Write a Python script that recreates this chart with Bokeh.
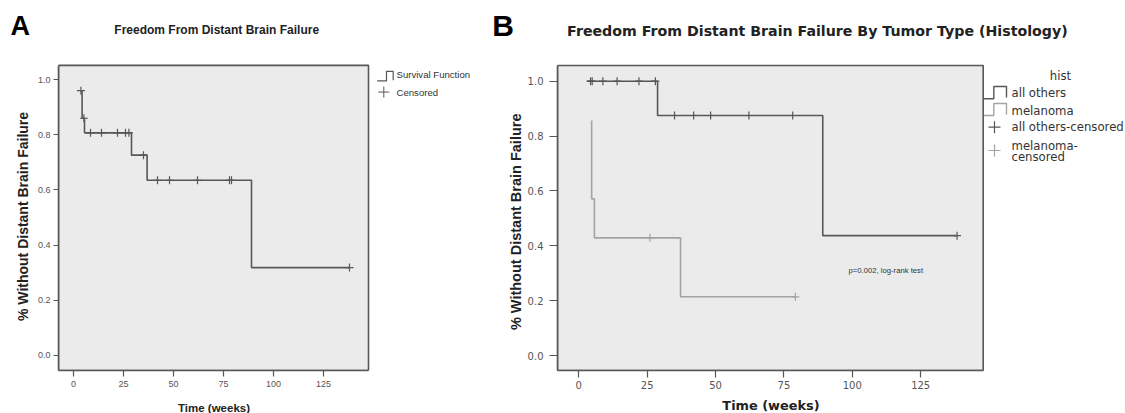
import math
from bokeh.plotting import figure
from bokeh.models import Range1d, FixedTicker, NumeralTickFormatter
from bokeh.layouts import row, column
from bokeh.embed import file_html
from bokeh.resources import INLINE
from bokeh.core.properties import value

# ---------------- data ----------------
x_ticks = [0, 25, 50, 75, 100, 125]
y_ticks = [0.0, 0.2, 0.4, 0.6, 0.8, 1.0]

# Panel A: overall Kaplan-Meier curve
a_step_time = [3.7, 4.3, 5.5, 29.0, 36.8, 89.0, 138.0]
a_step_surv = [0.96, 0.86, 0.807, 0.726, 0.635, 0.318, 0.318]
a_cens_time = [3.7, 5.2, 8.5, 14.0, 22.0, 26.0, 27.7, 35.0, 42.0, 48.0, 62.0, 78.0, 79.0, 138.0]
a_cens_surv = [0.96, 0.86, 0.807, 0.807, 0.807, 0.807, 0.807, 0.726, 0.635, 0.635, 0.635, 0.635, 0.635, 0.318]

# Panel B: by histology
b_oth_time = [3.1, 28.8, 89.2, 138.3]
b_oth_surv = [1.0, 0.875, 0.437, 0.437]
b_oth_cens_time = [4.3, 4.9, 8.8, 14.0, 22.0, 28.0, 35.0, 42.0, 48.2, 62.2, 78.2, 138.3]
b_oth_cens_surv = [1.0, 1.0, 1.0, 1.0, 1.0, 1.0, 0.875, 0.875, 0.875, 0.875, 0.875, 0.437]
b_mel_time = [4.7, 4.7, 5.7, 37.2, 79.2]
b_mel_surv = [0.857, 0.571, 0.429, 0.214, 0.214]
b_mel_cens_time = [26.0, 79.2]
b_mel_cens_surv = [0.429, 0.214]

title_a = "Freedom From Distant Brain Failure"
title_b = "Freedom From Distant Brain Failure By Tumor Type (Histology)"
ylab = "% Without Distant Brain Failure"
xlab = "Time (weeks)"
legend_a = ["Survival Function", "Censored"]
legend_b_title = "hist"
legend_b = ["all others", "melanoma", "all others-censored", "melanoma-", "censored"]
pval_text = "p=0.002, log-rank test"

W, H = 1125, 413
TOP, BOT = 48, 17            # heights of the title strip and x-label strip
MID = H - TOP - BOT
DARK = "#575757"
LIGHT = "#a3a3a3"
BOX_FILL = "#ebebeb"
ARIAL = "Liberation Sans"
VERD = "DejaVu Sans"


def strip(width, height, gx0, gy0):
    """A blank figure whose data coordinates equal page pixels."""
    s = figure(width=width, height=height, output_backend="svg", toolbar_location=None, title=None,
               x_range=Range1d(gx0, gx0 + width), y_range=Range1d(gy0 + height, gy0),
               x_axis_location=None, y_axis_location=None, min_border=0)
    s.outline_line_color = None
    s.grid.visible = False
    return s


def style_axes(p, font, size, xtick_out, xstand, ytick_out, ystand):
    for ax, tks, fmt in ((p.xaxis, x_ticks, None), (p.yaxis, y_ticks, "0.0")):
        ax.ticker = FixedTicker(ticks=tks)
        if fmt:
            ax.formatter = NumeralTickFormatter(format=fmt)
        ax.minor_tick_line_color = None
        ax.major_tick_in = 0
        ax.axis_line_color = DARK
        ax.axis_line_width = 1.6
        ax.major_tick_line_color = DARK
        ax.major_tick_line_width = 1.2
        ax.major_label_text_font = font
        ax.major_label_text_font_size = size
        ax.major_label_text_color = "#555555"
    p.xaxis.major_tick_out = xtick_out
    p.xaxis.major_label_standoff = xstand
    p.yaxis.major_tick_out = ytick_out
    p.yaxis.major_label_standoff = ystand


# ---------------- title strip ----------------
top = strip(W, TOP, 0, 0)
top.text([10], [25], text=["A"], text_font=value(ARIAL), text_font_style="bold",
         text_font_size="27px", text_color="#000000", text_baseline="middle")
top.text([216.2], [29.5], text=[title_a], text_font=value(ARIAL), text_font_style="bold",
         text_font_size="12px", text_color="#222222", text_align="center", text_baseline="middle")
top.text([491.7], [24.5], text=["B"], text_font=value(ARIAL), text_font_style="bold",
         text_font_size="30px", text_color="#000000", text_baseline="middle")
top.text([816.9], [30], text=[title_b], text_font=value(VERD), text_font_style="bold",
         text_font_size="14.2px", text_color="#222222", text_align="center", text_baseline="middle")

# ---------------- Panel A ----------------
WA = 490
A_FL, A_FT, A_FB = 58, 49, 372          # frame left / top / bottom (page px)
A_PX, A_PY = 2.0, 289.0                 # px per week, px per unit
A_X0PX, A_Y0PX = 73.0, 356.0            # page pixel of x=0, y=0
def xA(px):
    return (px - A_X0PX) / A_PX
def yA(py):
    return (A_Y0PX - py) / A_PY

a_xs, a_xe = xA(A_FL), xA(WA)
a_ys, a_ye = yA(A_FB), yA(A_FT)
a_box_r, a_box_t = xA(368), yA(52)

pA = figure(width=WA, height=MID, output_backend="svg", toolbar_location=None, title=None,
            x_range=Range1d(a_xs, a_xe), y_range=Range1d(a_ys, a_ye),
            min_border_left=A_FL, min_border_right=0,
            min_border_top=A_FT - TOP, min_border_bottom=TOP + MID - A_FB)
pA.outline_line_color = None
pA.grid.visible = False
pA.quad(left=a_xs, right=a_box_r, bottom=a_ys, top=a_box_t,
        fill_color=BOX_FILL, line_color=DARK, line_width=1.6)
pA.step(a_step_time, a_step_surv, mode="after", line_color=DARK, line_width=1.6)
pA.scatter(a_cens_time, a_cens_surv, marker="cross", size=8, line_color=DARK, line_width=1.2)

style_axes(pA, ARIAL, "9px", 6, 4, 5, 3)
pA.xaxis.bounds = (a_xs, a_box_r)
pA.yaxis.bounds = (a_ys, a_box_t)
pA.yaxis.axis_label = ylab
pA.yaxis.axis_label_text_font = ARIAL
pA.yaxis.axis_label_text_font_style = "bold"
pA.yaxis.axis_label_text_font_size = "14px"
pA.yaxis.axis_label_text_color = "#222222"
pA.yaxis.axis_label_standoff = 4

# legend A
pA.line([xA(376.7), xA(386), xA(386), xA(392.7), xA(392.7)],
        [yA(68.3), yA(68.3), yA(58.3), yA(58.3), yA(67.5)], line_color=DARK, line_width=1.2)
pA.scatter([xA(383.3)], [yA(80)], marker="cross", size=11, line_color=DARK, line_width=1)
pA.text([xA(396), xA(396)], [yA(61.7), yA(80)], text=legend_a, text_font=value(ARIAL),
        text_font_size="9.6px", text_color="#333333", text_baseline="middle")

# ---------------- B y-label strip ----------------
BY_X0, BY_W = WA, 34
ylb = strip(BY_W, MID, BY_X0, TOP)
ylb.text([515], [228], text=[ylab], text_font=value(ARIAL), text_font_style="bold",
         text_font_size="14.5px", text_color="#222222", text_align="center", text_baseline="middle",
         angle=math.pi / 2)

# ---------------- Panel B ----------------
B_X0 = BY_X0 + BY_W                     # page x where panel B starts
WB = W - B_X0
B_FL, B_FT, B_FB = 557, 62, 370
B_PX, B_PY = 2.735, 274.3
B_X0PX, B_Y0PX = 578.3, 355.0
def xB(gpx):
    return (gpx - B_X0PX) / B_PX
def yB(py):
    return (B_Y0PX - py) / B_PY

b_xs, b_xe = xB(B_FL), xB(W)
b_ys, b_ye = yB(B_FB), yB(B_FT)
b_box_r, b_box_t = xB(982.7), yB(65)

pB = figure(width=WB, height=MID, output_backend="svg", toolbar_location=None, title=None,
            x_range=Range1d(b_xs, b_xe), y_range=Range1d(b_ys, b_ye),
            min_border_left=B_FL - B_X0, min_border_right=0,
            min_border_top=B_FT - TOP, min_border_bottom=TOP + MID - B_FB)
pB.outline_line_color = None
pB.grid.visible = False
pB.quad(left=b_xs, right=b_box_r, bottom=b_ys, top=b_box_t,
        fill_color=BOX_FILL, line_color=DARK, line_width=1.6)
pB.step(b_mel_time, b_mel_surv, mode="after", line_color=LIGHT, line_width=1.6)
pB.scatter(b_mel_cens_time, b_mel_cens_surv, marker="cross", size=8, line_color=LIGHT, line_width=1.2)
pB.step(b_oth_time, b_oth_surv, mode="after", line_color=DARK, line_width=1.6)
pB.scatter(b_oth_cens_time, b_oth_cens_surv, marker="cross", size=8, line_color=DARK, line_width=1.2)

style_axes(pB, VERD, "10px", 7, 3, 8, 6)
pB.xaxis.bounds = (b_xs, b_box_r)
pB.yaxis.bounds = (b_ys, b_box_t)

pB.text([xB(848)], [yB(270)], text=[pval_text], text_font=value(ARIAL), text_font_size="7.7px",
        text_color="#333333", text_baseline="middle")

# legend B
pB.text([xB(1060)], [yB(75)], text=[legend_b_title], text_font=value(VERD), text_font_size="11.7px",
        text_color="#333333", text_align="center", text_baseline="middle")
pB.line([xB(983.3), xB(993.3), xB(993.3), xB(1006), xB(1006)],
        [yB(98.3), yB(98.3), yB(86), yB(86), yB(97)], line_color=DARK, line_width=1.4)
pB.line([xB(983.3), xB(993.3), xB(993.3), xB(1006), xB(1006)],
        [yB(115), yB(115), yB(103), yB(103), yB(114)], line_color=LIGHT, line_width=1.4)
pB.scatter([xB(994)], [yB(126.7)], marker="cross", size=12, line_color=DARK, line_width=1.2)
pB.scatter([xB(994)], [yB(150)], marker="cross", size=12, line_color=LIGHT, line_width=1.2)
pB.text([xB(1011)] * 5, [yB(92.7), yB(110), yB(126.7), yB(145), yB(156)], text=legend_b,
        text_font=value(VERD), text_font_size="11.7px", text_color="#333333", text_baseline="middle")

# ---------------- x-label strip ----------------
bot = strip(W, BOT, 0, TOP + MID)
bot.text([213.5], [407], text=[xlab], text_font=value(ARIAL), text_font_style="bold",
         text_font_size="11.5px", text_color="#222222", text_align="center", text_baseline="middle")
bot.text([770.5], [405], text=[xlab], text_font=value(VERD), text_font_style="bold",
         text_font_size="12.9px", text_color="#222222", text_align="center", text_baseline="middle")

layout = column(top, row(pA, ylb, pB), bot)
open("out.html", "w").write(file_html(layout, INLINE))
